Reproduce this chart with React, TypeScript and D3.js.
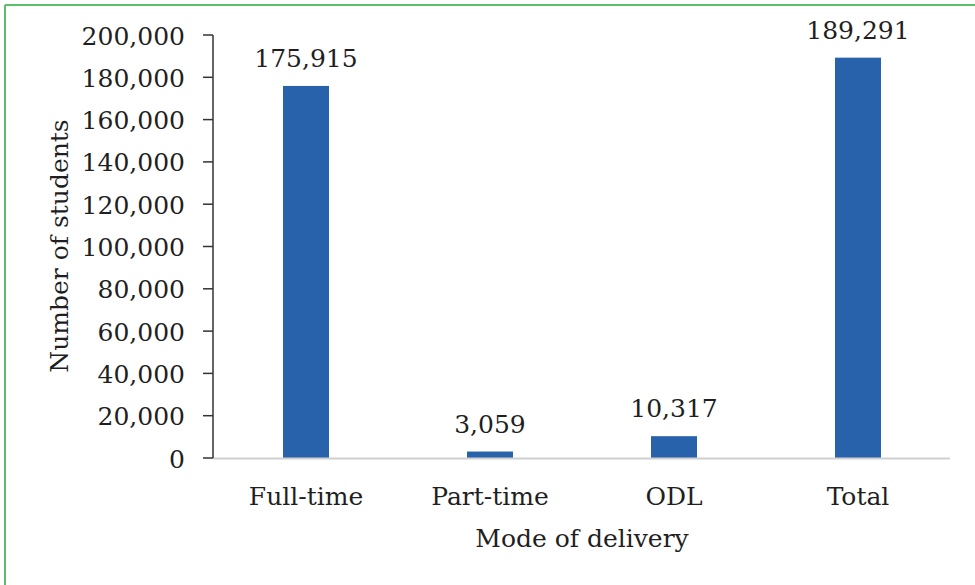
import React from "react";
import * as d3 from "d3";

const categories = ["Full-time", "Part-time", "ODL", "Total"];
const values = [175915, 3059, 10317, 189291];
const yTicks = [0, 20000, 40000, 60000, 80000, 100000, 120000, 140000, 160000, 180000, 200000];

const W = 975;
const H = 585;
const FONT = "'DejaVu Serif', serif";
const FS = 25;

export default function App() {
  const x = d3.scaleBand<string>().domain(categories).range([214, 950]).padding(0);
  const y = d3.scaleLinear().domain([0, 200000]).range([458, 35]);
  const bw = x.bandwidth() * 0.25;
  const fmt = d3.format(",");
  return (
    <svg width={W} height={H} style={{ position: "absolute", left: 0, top: 0, background: "#fff" }}>
      <rect x={0} y={0} width={W} height={H} fill="#fff" />
      <line x1={5} y1={5} x2={W} y2={5} stroke="#5cbf6a" strokeWidth={2} />
      <line x1={5} y1={5} x2={5} y2={H} stroke="#5cbf6a" strokeWidth={2} />
      {categories.map((c, i) => {
        const cx = (x(c) as number) + x.bandwidth() / 2;
        return (
          <g key={c}>
            <rect x={cx - bw / 2} y={y(values[i])} width={bw} height={y(0) - y(values[i])} fill="#2862ab" />
            <text x={cx} y={y(values[i]) - 19} textAnchor="middle" fontFamily={FONT} fontSize={FS} fill="#1f1f1f">
              {fmt(values[i])}
            </text>
            <text x={cx} y={505} textAnchor="middle" fontFamily={FONT} fontSize={FS} fill="#1f1f1f">
              {c}
            </text>
          </g>
        );
      })}
      <line x1={213} x2={950} y1={y(0) + 0.5} y2={y(0) + 0.5} stroke="#d0d0d0" strokeWidth={2} />
      <line x1={213} x2={213} y1={y(200000)} y2={y(0)} stroke="#333" strokeWidth={1.5} />
      {yTicks.map((t) => (
        <g key={t}>
          <line x1={203} x2={213} y1={y(t)} y2={y(t)} stroke="#333" strokeWidth={1.5} />
          <text x={185} y={y(t) + 9.5} textAnchor="end" fontFamily={FONT} fontSize={FS} fill="#1f1f1f">
            {fmt(t)}
          </text>
        </g>
      ))}
      <text
        transform={`translate(68,246) rotate(-90)`}
        textAnchor="middle"
        fontFamily={FONT}
        fontSize={FS}
        fill="#1f1f1f"
      >
        Number of students
      </text>
      <text x={582} y={547} textAnchor="middle" fontFamily={FONT} fontSize={FS} fill="#1f1f1f">
        Mode of delivery
      </text>
    </svg>
  );
}
